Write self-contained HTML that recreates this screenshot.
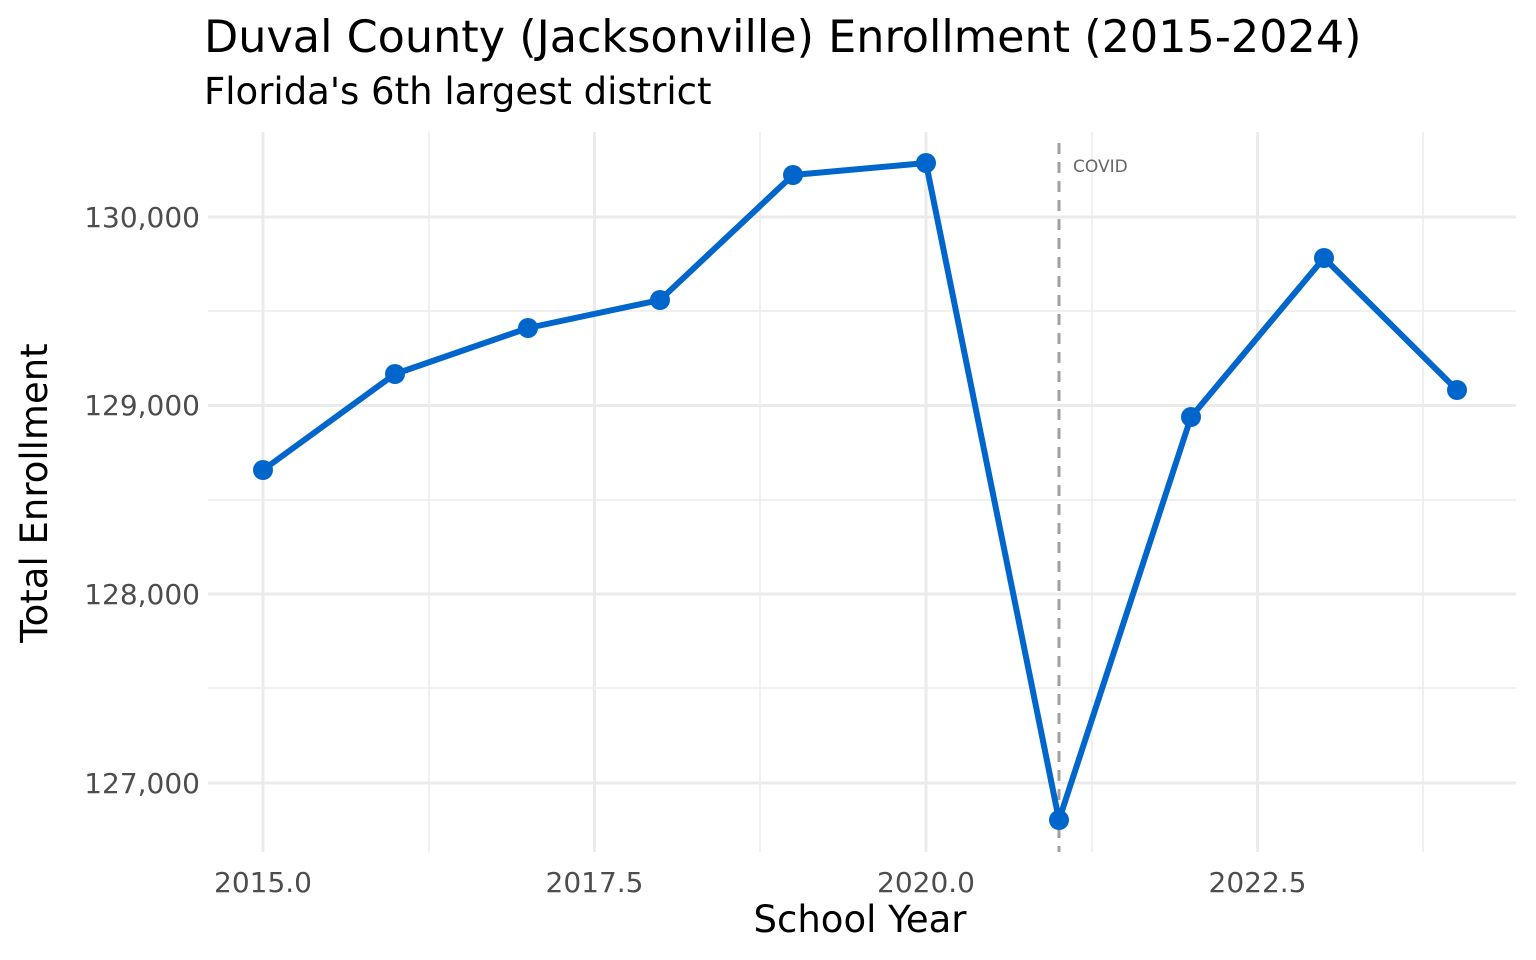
<!DOCTYPE html>
<html><head><meta charset="utf-8"><style>
html,body{margin:0;padding:0;background:#fff;}
svg{display:block;font-family:"DejaVu Sans","Liberation Sans",sans-serif;}
</style></head><body>
<svg width="1536" height="960" viewBox="0 0 1536 960" xmlns="http://www.w3.org/2000/svg">
<rect width="1536" height="960" fill="#fff"/>
<g stroke="#ebebeb" stroke-width="1.5">
<line x1="208" x2="1516" y1="311" y2="311"/>
<line x1="208" x2="1516" y1="500" y2="500"/>
<line x1="208" x2="1516" y1="688" y2="688"/>
<line x1="429" x2="429" y1="132" y2="852"/>
<line x1="760" x2="760" y1="132" y2="852"/>
<line x1="1092" x2="1092" y1="132" y2="852"/>
<line x1="1423" x2="1423" y1="132" y2="852"/>
</g>
<g stroke="#ebebeb" stroke-width="3">
<line x1="208" x2="1516" y1="217" y2="217"/>
<line x1="208" x2="1516" y1="405.5" y2="405.5"/>
<line x1="208" x2="1516" y1="594" y2="594"/>
<line x1="208" x2="1516" y1="783" y2="783"/>
<line x1="263" x2="263" y1="132" y2="852"/>
<line x1="594.5" x2="594.5" y1="132" y2="852"/>
<line x1="926" x2="926" y1="132" y2="852"/>
<line x1="1257.5" x2="1257.5" y1="132" y2="852"/>
</g>
<line x1="1059" x2="1059" y1="143" y2="852" stroke="#a0a0a0" stroke-width="3" stroke-dasharray="11,8"/>
<text x="1073" y="172" font-size="17" fill="#666">COVID</text>
<polyline fill="none" stroke="#0066cc" stroke-width="6" stroke-linejoin="round" points="263,470 395,374 528,328 660,300 793,175 926,163 1059,820 1191,417 1324,258 1457,390"/>
<g fill="#0066cc">
<circle cx="263" cy="470" r="10"/><circle cx="395" cy="374" r="10"/><circle cx="528" cy="328" r="10"/><circle cx="660" cy="300" r="10"/><circle cx="793" cy="175" r="10"/><circle cx="926" cy="163" r="10"/><circle cx="1059" cy="820" r="10"/><circle cx="1191" cy="417" r="10"/><circle cx="1324" cy="258" r="10"/><circle cx="1457" cy="390" r="10"/>
</g>
<g font-size="28" fill="#4d4d4d" text-anchor="end">
<text x="200" y="227">130,000</text>
<text x="200" y="415">129,000</text>
<text x="200" y="604">128,000</text>
<text x="200" y="793">127,000</text>
</g>
<g font-size="28" fill="#4d4d4d" text-anchor="middle">
<text x="263" y="892">2015.0</text>
<text x="594.5" y="892">2017.5</text>
<text x="926" y="892">2020.0</text>
<text x="1257.5" y="892">2022.5</text>
</g>
<text x="860" y="932" font-size="37" text-anchor="middle" fill="#000">School Year</text>
<text transform="translate(47,493) rotate(-90)" font-size="37" text-anchor="middle" fill="#000">Total Enrollment</text>
<text x="204" y="52" font-size="44.5" fill="#000">Duval County (Jacksonville) Enrollment (2015-2024)</text>
<text x="204" y="104" font-size="37" fill="#000">Florida's 6th largest district</text>
</svg>
</body></html>
